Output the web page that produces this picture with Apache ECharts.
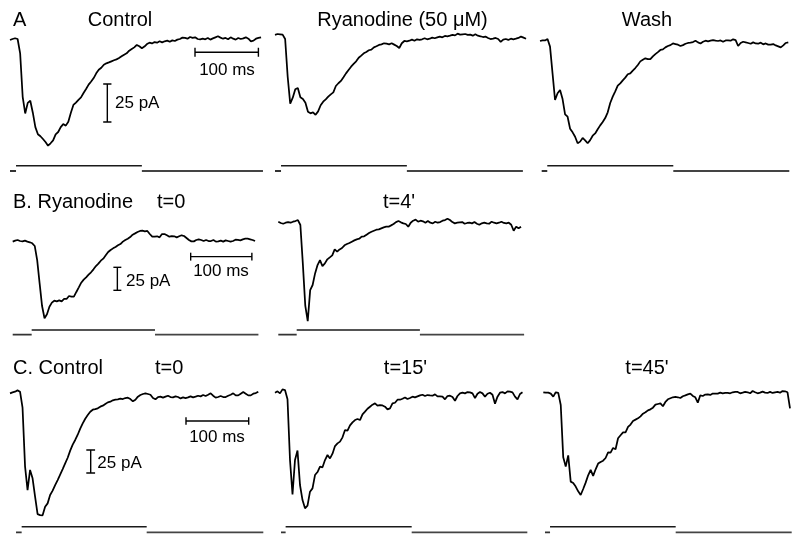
<!DOCTYPE html>
<html>
<head>
<meta charset="utf-8">
<script src="https://cdn.jsdelivr.net/npm/echarts/dist/echarts.min.js"></script>
<style>
  html, body { margin: 0; padding: 0; background: #fff; }
  #chart { width: 800px; height: 546px; }
</style>
</head>
<body>
<div id="chart"></div>
<script>
// sampling interval of every current trace (ms)
const dt = 4;

// membrane currents (pA), one value every 4 ms, 0..396 ms
const ctrlA = [-0.7,0,0.5,0,-9.4,-38,-49,-42,-40.6,-48.5,
  -58,-62.7,-64,-65.8,-67.8,-70.2,-68.6,-66.7,-62.7,-61.2,
  -58,-56,-57,-54.4,-48.5,-43.4,-41.8,-40,-38.4,-35.5,
  -32.9,-30,-28,-25.7,-22.6,-20.2,-18.9,-16.9,-16,-15.4,
  -14.7,-14,-13.4,-12.5,-11.4,-10.3,-9.4,-7.7,-6.6,-5.5,
  -3.9,-4.8,-6.1,-5,-3.3,-2.4,-2.9,-2,-2.4,-1.5,
  -2.2,-1.5,-1.1,-1.8,-0.9,-1.3,-0.4,0,0.9,0.7,
  0.2,1.3,0.7,1.1,0,-0.2,0.2,-0.2,0.7,-0.4,
  0.4,1.1,1.8,0.9,0.2,0.7,-0.2,1.1,0.2,-0.4,
  0.7,0,0.4,1.1,0.2,-1.5,-1.1,0.2,0.7,1.1];
const ryaA = [-0.4,0.2,0,-0.2,-3.1,-27.9,-45.6,-41.7,-36.2,-35.3,
  -41.4,-42.5,-45,-51,-52,-51.3,-53,-50.7,-46.7,-44.3,
  -42.8,-41,-39.5,-38.2,-34,-32.2,-30.7,-28.3,-25.7,-23.5,
  -21.3,-19.5,-17.8,-15.4,-14,-12.5,-11.6,-10.5,-10.1,-8.6,
  -7.9,-7,-6.6,-5.9,-6.1,-6.6,-5.9,-6.8,-7.7,-9,
  -5.9,-4.4,-4.6,-4.2,-3.5,-4.2,-3.3,-3.7,-3.3,-2.6,
  -3.3,-2.9,-2.2,-2.6,-2,-1.5,-2,-1.1,-1.3,-0.9,
  -0.4,-0.7,0.4,-0.2,0,0.2,-0.4,-0.2,-0.9,0,
  -0.9,-1.3,-1.8,-1.5,-2.4,-3.1,-2.9,-2.4,-3.1,-5,
  -3.5,-3.1,-3.7,-2.9,-3.3,-2.9,-2.4,-1.5,-2.2,-2.9];
const washA = [-0.2,0.2,0.2,1.1,-3.9,-21.5,-39,-34.6,-32.5,-38.4,
  -48.5,-50,-57.9,-60.3,-63.2,-67.5,-66.4,-64,-65.6,-67.5,
  -65.4,-62.5,-61,-58.3,-55.7,-53.5,-50.9,-47.1,-41,-36.8,
  -33.3,-29.6,-28.1,-26.1,-24.3,-22.1,-21.5,-19.7,-18,-16,
  -13.6,-12.5,-11.6,-12.1,-12.1,-10.3,-8.8,-7.5,-6.1,-5.7,
  -4.4,-3.5,-2.9,-1.8,-2.2,-2.6,-3.5,-2.9,-2,-1.5,
  -1.3,-0.9,0,-1.1,-1.8,-0.7,0,-0.4,0,0.4,
  0,-0.2,0.2,-0.7,0.2,0.2,0,0.9,0.4,-3.5,
  -1.5,-0.7,-1.1,-1.5,-2,-1.1,-1.8,-2,-1.3,-2.4,
  -1.8,-2.6,-2.6,-2.2,-3.1,-3.7,-4.4,-3.1,-1.5,-1.1];
const ryaB0 = [-0.7,0.4,1.1,0,-0.4,0.4,-0.7,-1.4,-2.5,-5.4,
  -20.7,-46,-70.7,-84,-79.7,-71.4,-67,-64.9,-65.6,-64.5,
  -65.6,-63,-63,-59.8,-60.5,-60.5,-55.4,-50.4,-45.3,-42,
  -39.5,-36.6,-34,-30.8,-27.2,-24.6,-21.4,-19.2,-15.6,-12,
  -9.8,-8,-6.5,-4.7,-3.3,-0.7,1.1,2.5,4.3,6.9,
  8.3,9.8,10.9,11.2,10.5,10.9,7.6,4.7,4.7,5.1,
  4,7.6,7.6,6.2,4.7,5.4,5.1,4,5.1,6.2,
  5.4,3.3,1.1,-0.4,-0.4,1.1,1.8,1.1,0,1.1,
  0,0,1.1,-0.7,-0.4,0.4,-0.7,0.7,0,-0.7,
  0,1.4,1.1,0.7,1.8,2.5,2.5,1.8,1.1,0];
const ryaB4 = [0,-1.4,-2.2,-1.1,-0.4,-1.1,0,0.7,1.8,-3.6,
  -45.3,-91.3,-108,-74.3,-68.8,-56.2,-47.1,-41.7,-48.2,-45.3,
  -40.9,-38.8,-36.6,-30.1,-32.6,-30.1,-28.6,-25.7,-24.3,-23.2,
  -21.7,-20.3,-19.2,-18.5,-16.3,-15.9,-14.1,-12.3,-10.9,-9.8,
  -8.7,-8.3,-7.2,-6.2,-5.4,-5.4,-4,-2.5,-0.4,0.7,
  -0.7,-1.8,-2.5,-5.4,-1.1,1.1,2.2,0,1.1,0.4,
  -1.1,0.7,-1.1,-1.8,0,-1.1,-0.4,1.1,1.8,3.3,
  1.8,-0.4,-1.8,-1.1,-0.7,-0.4,-2.2,-1.4,-1.1,-1.8,
  -0.4,-2.2,-3.3,-1.8,-1.1,-1.8,-2.2,0,-1.1,-1.8,
  -1.1,0,-1.4,-1.8,-1.1,-3.3,-9.8,-5.4,-7.2,-5.4];
const ctrlC0 = [-0.7,0.4,1.1,2.5,1.1,-16.3,-80,-106,-84,-93.1,
  -113,-132,-133,-133.3,-124,-120.3,-111.2,-106.5,-100.4,-95,
  -89,-83,-76.8,-70.7,-63,-56.5,-51.4,-45.7,-39.1,-33.3,
  -28.3,-24.3,-20.7,-18.5,-17.8,-17,-15.2,-14.1,-12.3,-10.5,
  -9.8,-8.3,-7.6,-7.2,-6.5,-6.9,-5.8,-5.4,-6.9,-9.4,
  -7.6,-4.3,-2.5,-1.4,-0.7,-1.4,-2.2,-5.8,-7.2,-4.7,
  -4.3,-5.4,-4.3,-3.3,-4.7,-5.1,-4,-4.7,-6.2,-5.1,
  -5.8,-5.1,-4,-5.1,-4.3,-3.3,-4,-2.5,-3.6,-2.2,
  -0.7,-3.3,-5.4,-4.7,-3.6,-4.7,-4.7,-3.3,-2.2,-0.7,
  -2.9,-2.9,-1.1,0.7,-1.1,-2.9,-2.9,-1.1,-0.4,1.1];
const ctrlC15 = [-1.1,0.4,-1.8,2.5,1.8,-8.3,-74.3,-111.6,-74.3,-64,
  -101.4,-117.8,-126.8,-123.9,-108.7,-105.1,-90.6,-87.3,-81.5,-82.2,
  -74.3,-68.8,-72.5,-67.4,-59.1,-56.2,-54.3,-49.6,-41.7,-42.4,
  -36.6,-33.3,-30.8,-29.7,-30.8,-24.6,-21.7,-18.5,-16.3,-14.1,
  -12.7,-15.2,-14.5,-14.9,-16.3,-19.2,-18.1,-12.7,-12,-8.7,
  -8.7,-7.6,-6.2,-8,-6.9,-5.4,-6.2,-5.1,-4,-3.3,
  -4.7,-3.6,-4,-4.3,-2.9,-5.1,-5.1,-5.4,-8.3,-4.7,
  -4.3,-5.8,-9.8,-4.7,-1.8,-1.1,-1.8,-0.4,-0.7,-1.8,
  -6.9,-2.2,-0.4,-1.8,-5.4,-2.2,-1.1,-3.3,-13,-5.4,
  -1.1,-0.4,-1.8,0.4,0,-0.7,-5.4,-8.3,-2.5,-0.7];
const ctrlC45 = [0,-0.4,-0.4,-1.4,-4.7,0,-0.7,-13.8,-70.7,-80.8,
  -68.5,-97.1,-98.6,-102.5,-107.6,-111.6,-105.1,-98.2,-90.2,-84.4,
  -90.9,-83.7,-77.5,-75.7,-74.3,-71.4,-65.2,-65.6,-60.5,-61.9,
  -50,-46.7,-43.5,-43.5,-37.7,-35.1,-31.2,-29.7,-28.3,-26.1,
  -23.2,-21.7,-19.6,-18.5,-16.7,-13.4,-12.7,-12,-15.2,-10.5,
  -7.6,-6.5,-5.4,-5.1,-5.4,-6.2,-4.3,-3.3,-2.2,-1.4,
  -4,-5.4,-11.2,-3.3,-4,-2.5,-2.2,-2.9,-1.4,-1.4,
  -1.4,-0.4,-1.1,-0.7,-0.7,-1.1,0,0.4,0.4,-1.1,
  -0.4,0.4,0,-1.1,1.4,0,-1.1,-0.4,0.7,-0.4,
  -0.7,0.4,-0.7,0,0.4,-0.4,1.4,1.1,0,-17.4];

// voltage protocol: [holding start, step on, step off, holding end] in ms
const stimA1 = [0, 9.5, 208, 399];
const stimA2 = [0, 9.5, 208, 391];
const stimA3 = [2.7, 11.6, 212.6, 397.6];
const stimB0 = [0, 31, 232.5, 401.5];
const stimB4 = [0, 30, 231, 401];
const stimC0 = [9.6, 18.6, 218, 404];
const stimC15 = [9.6, 17, 218.7, 403.7];
const stimC45 = [2.7, 10.8, 212.5, 398.7];

// scale bar sizes
const barMs = 100;
const barPA = 25;

const X_MAX = 405, Y_MIN = -140, Y_MAX = 20;

// layout: left edge, px per ms, baseline y, px per pA, step line y, step height
const panels = [
  {trace: ctrlA,   stim: stimA1,  left: 10,    sx: 0.634, base: 39,    sy: 1.52, stepY: 165.7, gap: 5.3},
  {trace: ryaA,    stim: stimA2,  left: 275,   sx: 0.634, base: 34.3,  sy: 1.52, stepY: 165.7, gap: 5.3},
  {trace: washA,   stim: stimA3,  left: 540,   sx: 0.627, base: 40.7,  sy: 1.52, stepY: 165.7, gap: 5.3},
  {trace: ryaB0,   stim: stimB0,  left: 12.7,  sx: 0.612, base: 241,   sy: 0.92, stepY: 330,   gap: 4.7},
  {trace: ryaB4,   stim: stimB4,  left: 278.3, sx: 0.613, base: 221.7, sy: 0.92, stepY: 330,   gap: 4.7},
  {trace: ctrlC0,  stim: stimC0,  left: 10,    sx: 0.627, base: 392.7, sy: 0.92, stepY: 526.7, gap: 5.6},
  {trace: ctrlC15, stim: stimC15, left: 275,   sx: 0.625, base: 391.7, sy: 0.92, stepY: 526.7, gap: 5.6},
  {trace: ctrlC45, stim: stimC45, left: 543.3, sx: 0.623, base: 392.3, sy: 0.92, stepY: 526.7, gap: 5.6}
];

// scale bars (placed in panel coordinates): time bar start/level, current bar time/top
const scaleBars = [
  {panel: 0, tStart: 291.8, tLevel: -8.75, tick: 3,   iT: 153.5, iTop: -29.6, cap: 6.5},
  {panel: 3, tStart: 290.8, tLevel: -17,   tick: 4.3, iT: 171,   iTop: -28.6, cap: 6.5},
  {panel: 5, tStart: 280.7, tLevel: -30.8, tick: 4,   iT: 128.7, iTop: -62.3, cap: 7}
];

const grids = [], xAxes = [], yAxes = [], series = [];
const ink = '#000';

function seg(idx, pts, color, width) {
  series.push({
    type: 'line', xAxisIndex: idx, yAxisIndex: idx, data: pts,
    symbol: 'none', silent: true, clip: false, animation: false,
    lineStyle: {color: color, width: width}
  });
}

panels.forEach(function (p, i) {
  const w = p.sx * X_MAX;
  const ti = 2 * i, si = 2 * i + 1;
  grids.push({left: p.left, top: p.base - Y_MAX * p.sy, width: w, height: (Y_MAX - Y_MIN) * p.sy});
  xAxes.push({type: 'value', gridIndex: ti, min: 0, max: X_MAX, show: false});
  yAxes.push({type: 'value', gridIndex: ti, min: Y_MIN, max: Y_MAX, show: false});
  grids.push({left: p.left, top: p.stepY - p.gap, width: w, height: 3 * p.gap});
  xAxes.push({type: 'value', gridIndex: si, min: 0, max: X_MAX, show: false});
  yAxes.push({type: 'value', gridIndex: si, min: -1, max: 2, show: false});

  seg(ti, p.trace.map(function (v, k) { return [k * dt, v]; }), ink, 1.75);

  const s = p.stim;
  seg(si, [[s[0], 0], [s[1], 0]], '#333', 1.8);
  seg(si, [[s[1], 1], [s[2], 1]], '#1a1a1a', 1.4);
  seg(si, [[s[2], 0], [s[3], 0]], '#444', 1.8);
});

scaleBars.forEach(function (b) {
  const idx = 2 * b.panel;
  const t1 = b.tStart + barMs;
  seg(idx, [[b.tStart, b.tLevel], [t1, b.tLevel]], ink, 1.4);
  seg(idx, [[b.tStart, b.tLevel - b.tick], [b.tStart, b.tLevel + b.tick]], ink, 1.4);
  seg(idx, [[t1, b.tLevel - b.tick], [t1, b.tLevel + b.tick]], ink, 1.4);
  const iBot = b.iTop - barPA;
  seg(idx, [[b.iT, b.iTop], [b.iT, iBot]], ink, 1.4);
  seg(idx, [[b.iT - b.cap, b.iTop], [b.iT + b.cap, b.iTop]], ink, 1.4);
  seg(idx, [[b.iT - b.cap, iBot], [b.iT + b.cap, iBot]], ink, 1.4);
});

const titleFont = '20px "Liberation Sans", Arial, sans-serif';
const smallFont = '17px "Liberation Sans", Arial, sans-serif';
const labels = [
  ['A', 13, 20, 'left', titleFont],
  ['Control', 120, 20, 'center', titleFont],
  ['Ryanodine (50 \u03bcM)', 402.5, 20, 'center', titleFont],
  ['Wash', 647, 20, 'center', titleFont],
  ['B. Ryanodine', 13, 202, 'left', titleFont],
  ['t=0', 157, 202, 'left', titleFont],
  ["t=4'", 399, 202, 'center', titleFont],
  ['C. Control', 13, 368.5, 'left', titleFont],
  ['t=0', 155, 368.5, 'left', titleFont],
  ["t=15'", 405.5, 368.5, 'center', titleFont],
  ["t=45'", 647, 368.5, 'center', titleFont],
  [barMs + ' ms', 227, 70.5, 'center', smallFont],
  [barPA + ' pA', 115, 103.5, 'left', smallFont],
  [barMs + ' ms', 221, 271.7, 'center', smallFont],
  [barPA + ' pA', 126, 281, 'left', smallFont],
  [barMs + ' ms', 217, 437.5, 'center', smallFont],
  [barPA + ' pA', 97.3, 463.3, 'left', smallFont]
];

const graphic = labels.map(function (l) {
  return {
    type: 'text', x: l[1], y: l[2], silent: true,
    style: {text: l[0], font: l[4], fill: '#000', textAlign: l[3], textVerticalAlign: 'middle'}
  };
});

const chart = echarts.init(document.getElementById('chart'), null, {renderer: 'canvas'});
chart.setOption({
  backgroundColor: '#fff',
  animation: false,
  grid: grids,
  xAxis: xAxes,
  yAxis: yAxes,
  series: series,
  graphic: graphic
});
</script>
</body>
</html>
